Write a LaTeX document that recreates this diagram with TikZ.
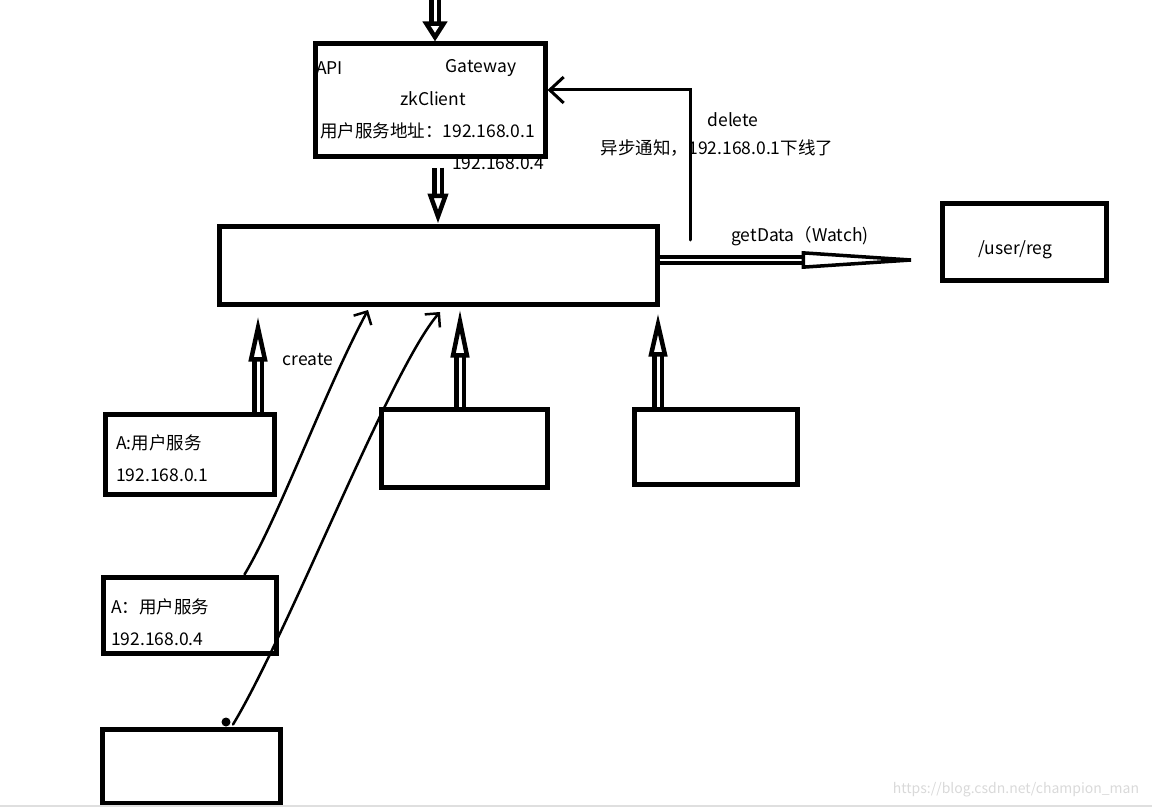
\documentclass[tikz,border=0pt]{standalone}
\usepackage{fontspec}
\setmainfont{Noto Sans CJK SC}
\usepackage{tikz}
\usetikzlibrary{arrows.meta, positioning, calc}

\tikzset{
  box/.style={draw, line width=5pt, inner sep=0pt},
  lbl/.style={font=\fontsize{17.5}{20}\selectfont, inner sep=0pt},
  hollow/.style={line width=4.5pt, double=white, double distance=3pt},
  wire/.style={line width=3pt, line cap=round},
  hand/.style={line width=2.5pt, line cap=round, -{Straight Barb[length=10pt, width=20pt, line width=2.5pt]}}
}

\begin{document}
\begin{tikzpicture}[x=1pt, y=-1pt]
\useasboundingbox (0,0) rectangle (1152,808);
% Boxes
\node[box, minimum width=230, minimum height=112] (gateway) at (430,100) {};
\node[box, minimum width=438, minimum height=78] (hub) at (438,265) {};
\node[box, minimum width=164, minimum height=77] (userreg) at (1024,241.5) {};
\node[box, minimum width=169, minimum height=80] (svcA) at (189.5,454) {};
\node[box, minimum width=166, minimum height=78] (svcB) at (464,448) {};
\node[box, minimum width=163, minimum height=75] (svcC) at (715.5,446.5) {};
\node[box, minimum width=173, minimum height=76] (svcD) at (189.5,615) {};
\node[box, minimum width=178, minimum height=74] (svcE) at (191,766) {};
% Gateway texts
\node[lbl, anchor=west] (api) at (316,68) {API};
\node[lbl] (gw) at (481,68) {Gateway};
\node[lbl] (zk) at (433,99) {zkClient};
\node[lbl, anchor=west] (addr) at (320,131) {用户服务地址：192.168.0.1};
\node[lbl, anchor=west] (addr2) at (452,163) {192.168.0.4};
% Service texts
\node[lbl, anchor=west] (nameA) at (116,443) {A:用户服务};
\node[lbl, anchor=west] (ipA) at (116,475) {192.168.0.1};
\node[lbl, anchor=west] (nameD) at (111,607) {A：用户服务};
\node[lbl, anchor=west] (ipD) at (111,639) {192.168.0.4};
\node[lbl] (reg) at (1015,250) {/user/reg};
% Edge labels
\node[lbl] (create) at (308,360) {create};
\node[lbl] (del) at (733,120) {delete};
\node[lbl] (note) at (717,148) {异步通知，192.168.0.1下线了};
\node[lbl] (getdata) at (800,236) {getData（Watch)};
% Hollow arrows
\coordinate (top) at (435,0);
\draw[hollow, -{Triangle[open, length=20pt, width=24pt, line width=4.5pt]}] (top) -- (gateway.north -| top);
\draw[hollow, -{Triangle[open, length=30pt, width=20pt, line width=4.5pt]}] ($(gateway.south)+(8,9)$) -- (hub.north -| 438,0);
\draw[hollow, -{Triangle[open, length=45pt, width=18pt, line width=4.5pt]}] (svcA.north -| 258,0) -- ($(hub.south -| 258,0)+(0,10)$);
\draw[hollow, -{Triangle[open, length=48pt, width=18pt, line width=4.5pt]}] (svcB.north -| 460,0) -- ($(hub.south -| 460,0)+(0,3)$);
\draw[hollow, -{Triangle[open, length=43pt, width=18pt, line width=4.5pt]}] (svcC.north -| 658,0) -- ($(hub.south -| 658,0)+(0,7)$);
\draw[line width=3.5pt, double=white, double distance=2.5pt, -{Triangle[open, length=138pt, width=17pt, line width=3.5pt]}] (hub.east |- 0,260) -- (userreg.west |- 0,260);
% Delete notification
\coordinate (watch) at (690,240);
\draw[wire, -{Straight Barb[length=14pt, width=26pt, line width=3pt]}] (watch) -- (690,90) -- (gateway.east |- 0,90);
% Hand drawn create arrows
\coordinate (endA) at (368,310);
\coordinate (endB) at (440,312);
\draw[hand] ($(svcD.north)+(55,0)$) .. controls (280,515) and (325,390) .. (endA);
\draw[hand] ($(svcE.north)+(42,-2)$) .. controls (290,630) and (390,370) .. (endB);
\fill (226,722) circle (4.5pt);
% Watermark
\node[font=\fontsize{14}{16}\selectfont, text=gray!30] (mark) at (1016,790) {https://blog.csdn.net/champion\_man};
\draw[gray!25, line width=1.5pt] (0,806) -- (1152,806);
\end{tikzpicture}
\end{document}
